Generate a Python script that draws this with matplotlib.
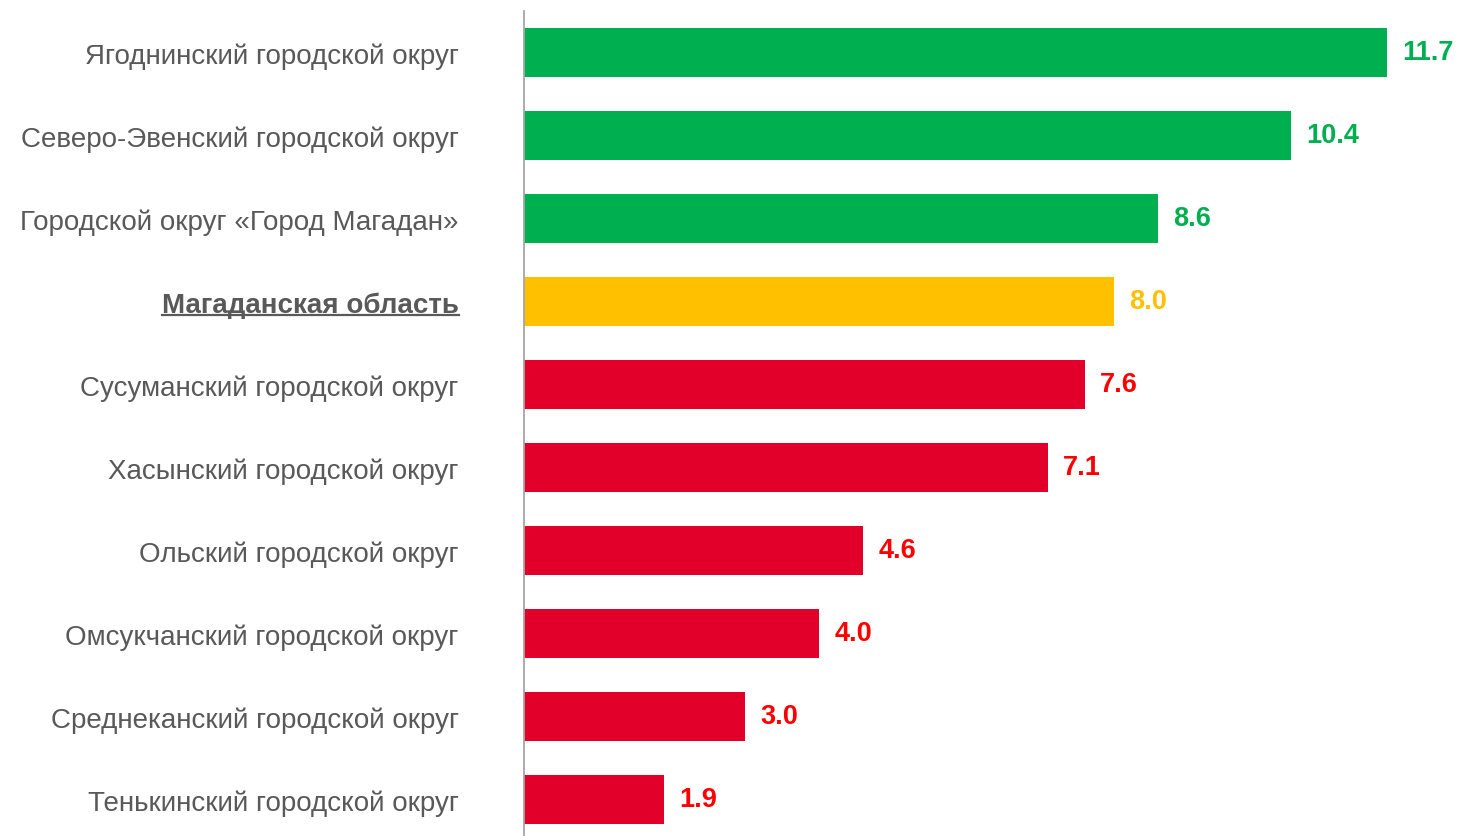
import matplotlib
matplotlib.use("Agg")
from matplotlib import pyplot as plt
from matplotlib.lines import Line2D

plt.rcParams['font.family'] = ['Liberation Sans', 'DejaVu Sans']

# data
districts = [
    "Ягоднинский городской округ",
    "Северо-Эвенский городской округ",
    "Городской округ «Город Магадан»",
    "Магаданская область",
    "Сусуманский городской округ",
    "Хасынский городской округ",
    "Ольский городской округ",
    "Омсукчанский городской округ",
    "Среднеканский городской округ",
    "Тенькинский городской округ",
]
values = [11.7, 10.4, 8.6, 8.0, 7.6, 7.1, 4.6, 4.0, 3.0, 1.9]
region_name = "Магаданская область"
region_value = 8.0

GREEN = '#00B050'
YELLOW = '#FFC000'
RED_BAR = '#E2002A'
RED_TXT = '#FF0000'
GRAY = '#595959'

bar_colors = []
text_colors = []
for d, v in zip(districts, values):
    if d == region_name:
        bar_colors.append(YELLOW)
        text_colors.append(YELLOW)
    elif v > region_value:
        bar_colors.append(GREEN)
        text_colors.append(GREEN)
    else:
        bar_colors.append(RED_BAR)
        text_colors.append(RED_TXT)

fig = plt.figure(figsize=(14.6, 8.37), dpi=100)
W, H = 1460, 837
ax = fig.add_axes([524 / W, 0, 1 - 524 / W, (837 - 12) / H])

ypos = list(range(len(values)))
ax.barh(ypos, values, height=0.58, color=bar_colors)

for i, v in enumerate(values):
    ax.annotate(f"{v:.1f}", (v, i), xytext=(11, 0), textcoords='offset points',
                va='center', ha='left', fontsize=19.5, fontweight='bold',
                color=text_colors[i])

ax.set_xlim(0, 936 / 73.76)
ax.set_ylim(9.44, -0.50)
ax.set_xticks([])
ax.set_yticks(ypos)
ax.set_yticklabels(districts, fontsize=20, color=GRAY)
ax.tick_params(axis='y', length=0, pad=47)

for s in ['top', 'right', 'bottom']:
    ax.spines[s].set_visible(False)
ax.spines['left'].set_color('#A6A6A6')
ax.spines['left'].set_linewidth(1.3)

idx = districts.index(region_name)
lab = ax.get_yticklabels()[idx]
lab.set_fontweight('bold')

# underline the region label
fig.canvas.draw()
bb = lab.get_window_extent()
y_line = bb.y0 + 0.12 * bb.height
fig.add_artist(Line2D([bb.x0 / W, bb.x1 / W], [y_line / H, y_line / H],
                      color=GRAY, linewidth=1.6))

plt.savefig('out.png', dpi=100)
